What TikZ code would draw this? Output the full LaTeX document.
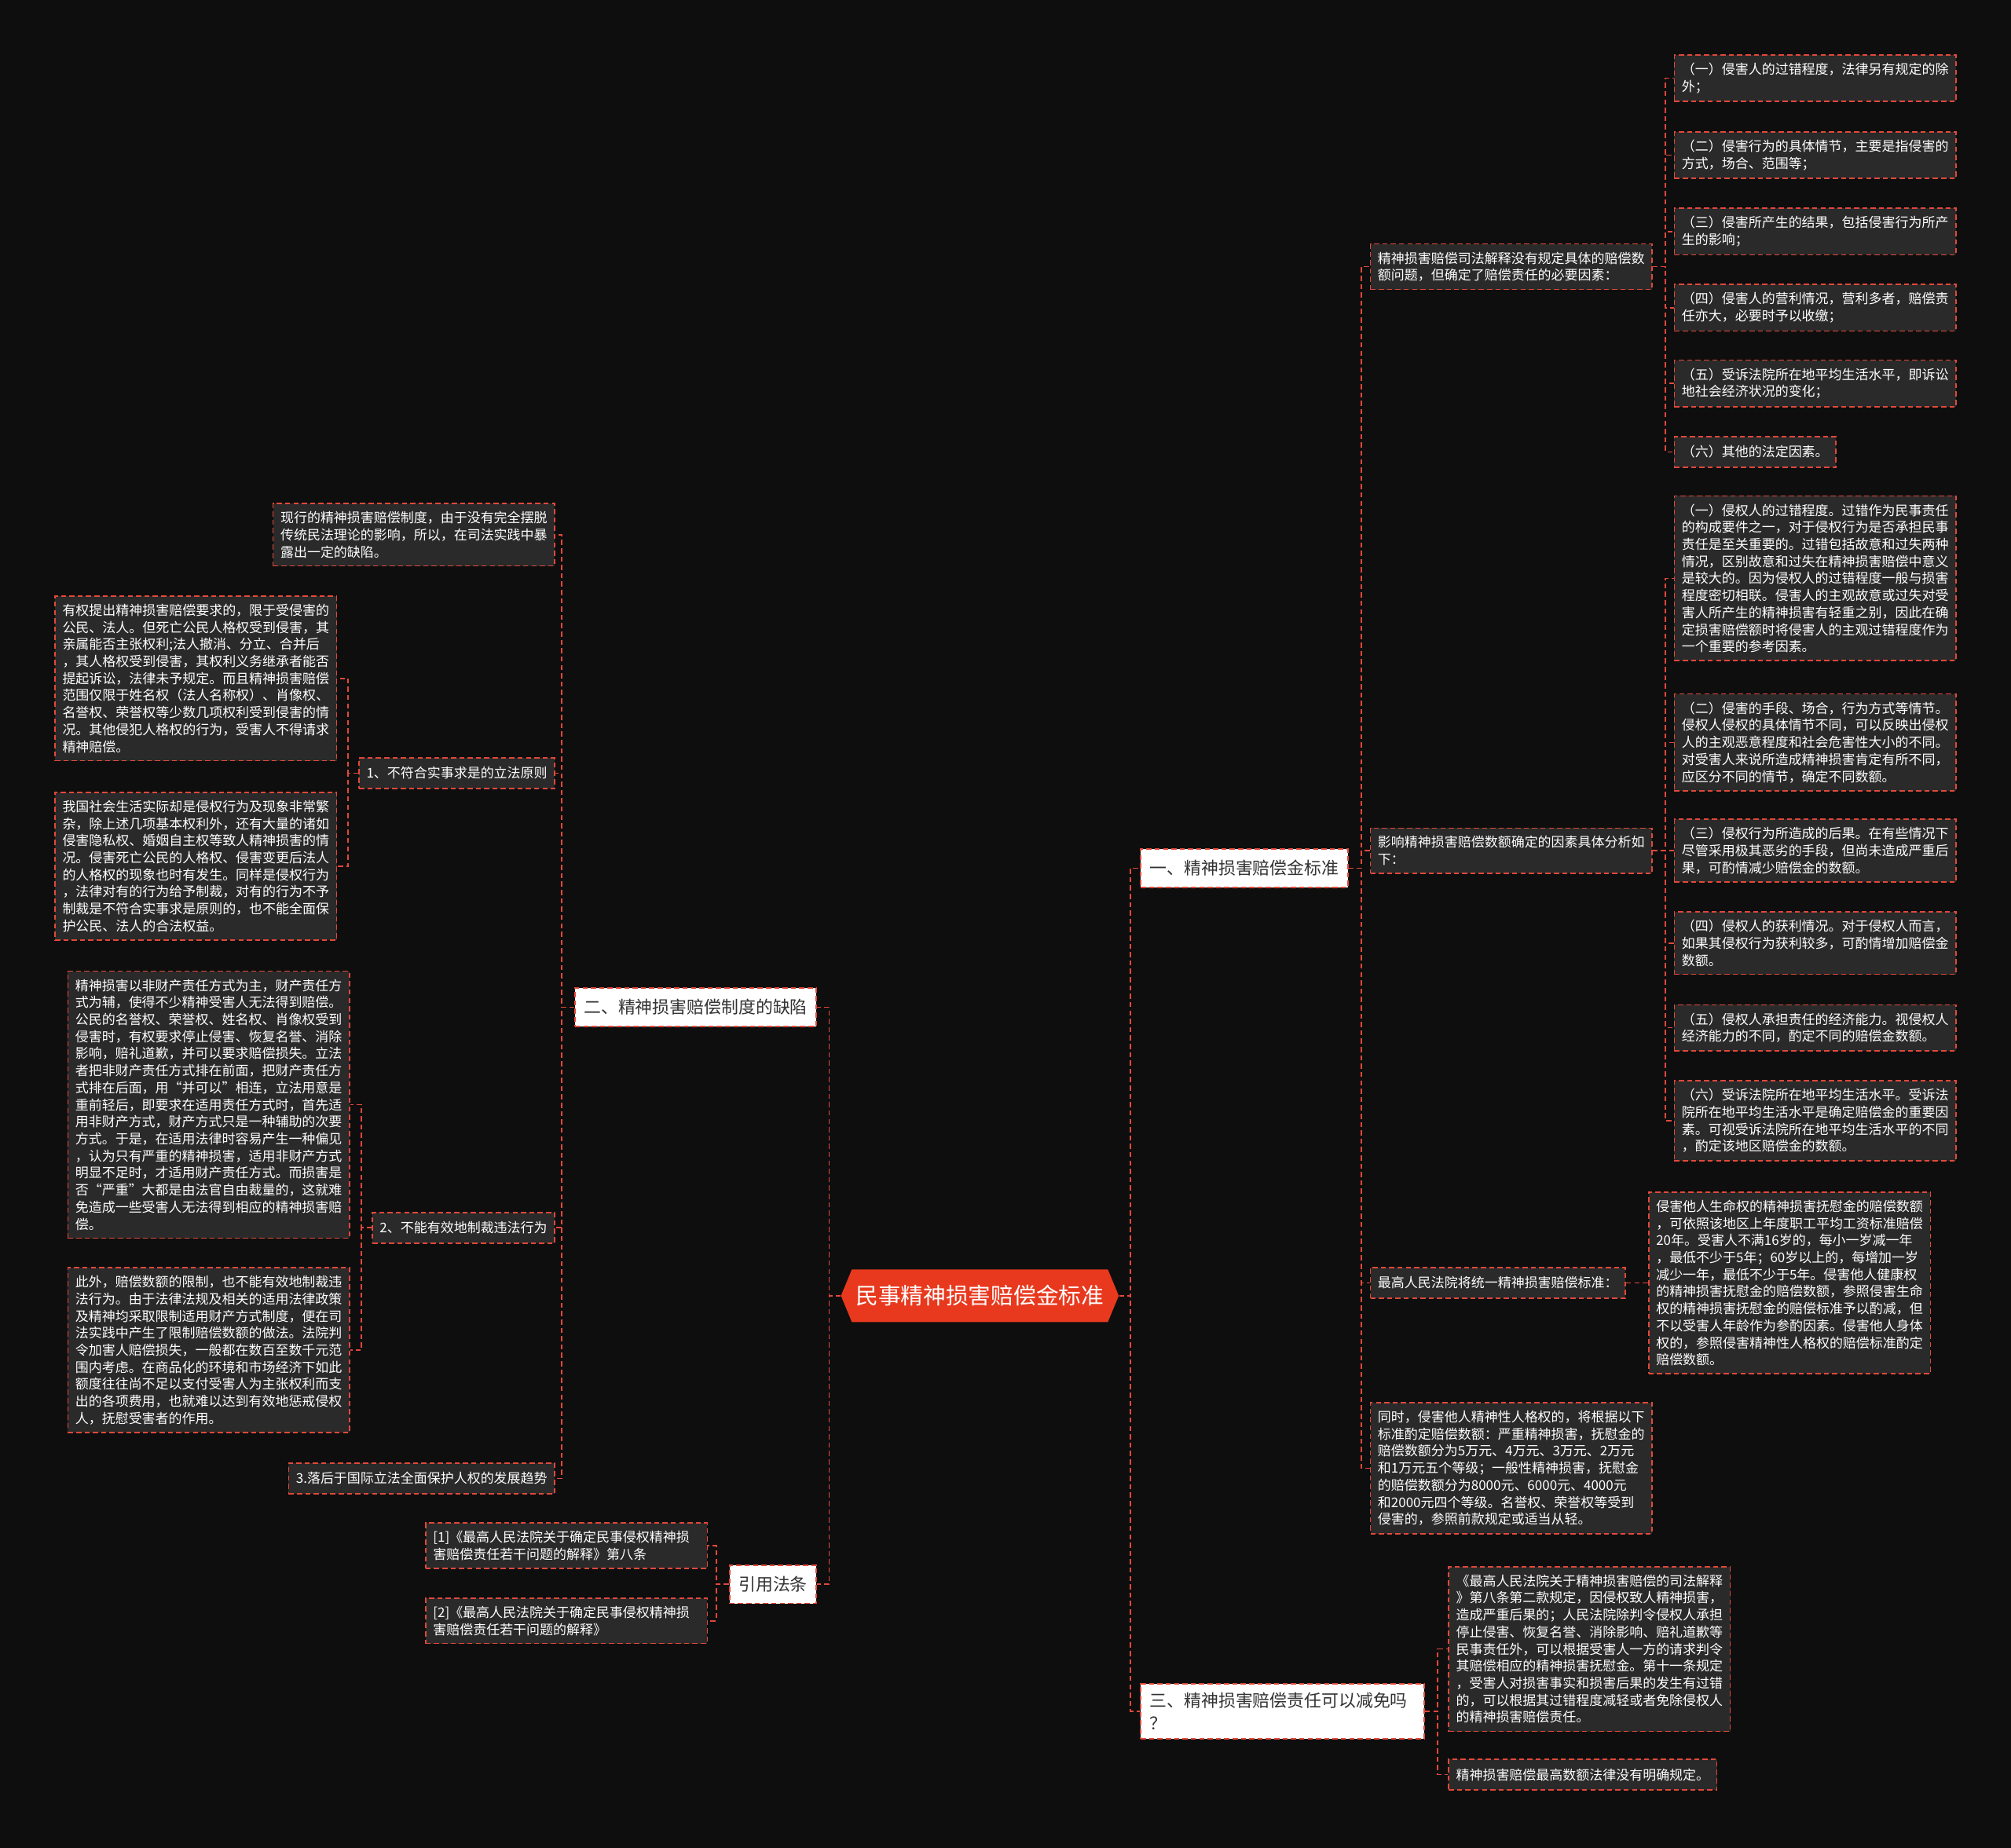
\documentclass[tikz,border=0pt]{standalone}
\usepackage{fontspec}
\setmainfont{Noto Sans CJK SC}
\usetikzlibrary{shapes.symbols}

\definecolor{bgdark}{HTML}{0E0E0E}
\definecolor{leafgray}{HTML}{2A2A2A}
\definecolor{linkred}{HTML}{E2483A}
\definecolor{mainred}{HTML}{E8391E}
\definecolor{textdark}{HTML}{333333}

\tikzset{
  link/.style={draw=linkred, line width=1pt, dash pattern=on 4pt off 2.5pt},
  leaf/.style={link, fill=leafgray, text=white, align=left,
    font=\fontsize{10.4}{13.3}\selectfont,
    inner xsep=5.8pt, inner ysep=6.2pt, minimum height=24pt},
  wideleaf/.style={leaf, text width=208pt},
  branch/.style={link, fill=white, text=textdark, align=left,
    font=\fontsize{13.4}{17.5}\selectfont,
    inner xsep=7pt, inner ysep=7pt, minimum height=30pt},
  root/.style={shape=signal, signal to=west and east, signal pointer angle=135,
    fill=mainred, text=white, font=\fontsize{17.6}{20}\selectfont,
    minimum width=214pt, minimum height=41pt, inner xsep=3pt}
}

\begin{document}
\begin{tikzpicture}[x=1pt,y=-1pt]
  \useasboundingbox (0,0) rectangle (1568,1441);
  \fill[bgdark] (0,0) rectangle (1568,1441);

  % root
  \node[root] (root) at (764,1010.5) {民事精神损害赔偿金标准};

  % branches
  \node[branch, anchor=west] (b1) at (889,677) {一、精神损害赔偿金标准};
  \node[branch, anchor=west, text width=207pt] (b3) at (889,1334.5) {三、精神损害赔偿责任可以减免吗\\？};
  \node[branch, anchor=east] (b2) at (637,785.5) {二、精神损害赔偿制度的缺陷};
  \node[branch, anchor=east] (cite) at (637,1235.5) {引用法条};

  % branch one
  \node[wideleaf, anchor=west] (p1) at (1068,208) {精神损害赔偿司法解释没有规定具体的赔偿数\\额问题，但确定了赔偿责任的必要因素：};
  \node[wideleaf, anchor=west] (a1) at (1305,61) {（一）侵害人的过错程度，法律另有规定的除\\外；};
  \node[wideleaf, anchor=west] (a2) at (1305,121) {（二）侵害行为的具体情节，主要是指侵害的\\方式，场合、范围等；};
  \node[wideleaf, anchor=west] (a3) at (1305,180.5) {（三）侵害所产生的结果，包括侵害行为所产\\生的影响；};
  \node[wideleaf, anchor=west] (a4) at (1305,240) {（四）侵害人的营利情况，营利多者，赔偿责\\任亦大，必要时予以收缴；};
  \node[wideleaf, anchor=west] (a5) at (1305,299) {（五）受诉法院所在地平均生活水平，即诉讼\\地社会经济状况的变化；};
  \node[leaf, anchor=west] (a6) at (1305,352.5) {（六）其他的法定因素。};

  \node[wideleaf, anchor=west] (p2) at (1068,663.5) {影响精神损害赔偿数额确定的因素具体分析如\\下：};
  \node[wideleaf, anchor=west] (c1) at (1305,451) {（一）侵权人的过错程度。过错作为民事责任\\的构成要件之一，对于侵权行为是否承担民事\\责任是至关重要的。过错包括故意和过失两种\\情况，区别故意和过失在精神损害赔偿中意义\\是较大的。因为侵权人的过错程度一般与损害\\程度密切相联。侵害人的主观故意或过失对受\\害人所产生的精神损害有轻重之别，因此在确\\定损害赔偿额时将侵害人的主观过错程度作为\\一个重要的参考因素。};
  \node[wideleaf, anchor=west] (c2) at (1305,579) {（二）侵害的手段、场合，行为方式等情节。\\侵权人侵权的具体情节不同，可以反映出侵权\\人的主观恶意程度和社会危害性大小的不同。\\对受害人来说所造成精神损害肯定有所不同，\\应区分不同的情节，确定不同数额。};
  \node[wideleaf, anchor=west] (c3) at (1305,663.5) {（三）侵权行为所造成的后果。在有些情况下\\尽管采用极其恶劣的手段，但尚未造成严重后\\果，可酌情减少赔偿金的数额。};
  \node[wideleaf, anchor=west] (c4) at (1305,735.5) {（四）侵权人的获利情况。对于侵权人而言，\\如果其侵权行为获利较多，可酌情增加赔偿金\\数额。};
  \node[wideleaf, anchor=west] (c5) at (1305,801.5) {（五）侵权人承担责任的经济能力。视侵权人\\经济能力的不同，酌定不同的赔偿金数额。};
  \node[wideleaf, anchor=west] (c6) at (1305,874) {（六）受诉法院所在地平均生活水平。受诉法\\院所在地平均生活水平是确定赔偿金的重要因\\素。可视受诉法院所在地平均生活水平的不同\\，酌定该地区赔偿金的数额。};

  \node[leaf, anchor=west] (p3) at (1068,1000.5) {最高人民法院将统一精神损害赔偿标准：};
  \node[wideleaf, anchor=west] (s1) at (1285,1000.5) {侵害他人生命权的精神损害抚慰金的赔偿数额\\，可依照该地区上年度职工平均工资标准赔偿\\20年。受害人不满16岁的，每小一岁减一年\\，最低不少于5年；60岁以上的，每增加一岁\\减少一年，最低不少于5年。侵害他人健康权\\的精神损害抚慰金的赔偿数额，参照侵害生命\\权的精神损害抚慰金的赔偿标准予以酌减，但\\不以受害人年龄作为参酌因素。侵害他人身体\\权的，参照侵害精神性人格权的赔偿标准酌定\\赔偿数额。};

  \node[wideleaf, anchor=west] (p4) at (1068,1145) {同时，侵害他人精神性人格权的，将根据以下\\标准酌定赔偿数额：严重精神损害，抚慰金的\\赔偿数额分为5万元、4万元、3万元、2万元\\和1万元五个等级；一般性精神损害，抚慰金\\的赔偿数额分为8000元、6000元、4000元\\和2000元四个等级。名誉权、荣誉权等受到\\侵害的，参照前款规定或适当从轻。};

  % branch three
  \node[wideleaf, anchor=west] (d1) at (1129,1286) {《最高人民法院关于精神损害赔偿的司法解释\\》第八条第二款规定，因侵权致人精神损害，\\造成严重后果的；人民法院除判令侵权人承担\\停止侵害、恢复名誉、消除影响、赔礼道歉等\\民事责任外，可以根据受害人一方的请求判令\\其赔偿相应的精神损害抚慰金。第十一条规定\\，受害人对损害事实和损害后果的发生有过错\\的，可以根据其过错程度减轻或者免除侵权人\\的精神损害赔偿责任。};
  \node[leaf, anchor=west] (d2) at (1129,1384) {精神损害赔偿最高数额法律没有明确规定。};

  % branch two
  \node[wideleaf, anchor=east] (l0) at (433,417) {现行的精神损害赔偿制度，由于没有完全摆脱\\传统民法理论的影响，所以，在司法实践中暴\\露出一定的缺陷。};
  \node[leaf, anchor=east] (l1) at (433,603) {1、不符合实事求是的立法原则};
  \node[wideleaf, anchor=east] (l1a) at (263,529) {有权提出精神损害赔偿要求的，限于受侵害的\\公民、法人。但死亡公民人格权受到侵害，其\\亲属能否主张权利;法人撤消、分立、合并后\\，其人格权受到侵害，其权利义务继承者能否\\提起诉讼，法律未予规定。而且精神损害赔偿\\范围仅限于姓名权（法人名称权）、肖像权、\\名誉权、荣誉权等少数几项权利受到侵害的情\\况。其他侵犯人格权的行为，受害人不得请求\\精神赔偿。};
  \node[wideleaf, anchor=east] (l1b) at (263,675.5) {我国社会生活实际却是侵权行为及现象非常繁\\杂，除上述几项基本权利外，还有大量的诸如\\侵害隐私权、婚姻自主权等致人精神损害的情\\况。侵害死亡公民的人格权、侵害变更后法人\\的人格权的现象也时有发生。同样是侵权行为\\，法律对有的行为给予制裁，对有的行为不予\\制裁是不符合实事求是原则的，也不能全面保\\护公民、法人的合法权益。};
  \node[leaf, anchor=east] (l2) at (433,957.5) {2、不能有效地制裁违法行为};
  \node[wideleaf, anchor=east] (l2a) at (273,861.5) {精神损害以非财产责任方式为主，财产责任方\\式为辅，使得不少精神受害人无法得到赔偿。\\公民的名誉权、荣誉权、姓名权、肖像权受到\\侵害时，有权要求停止侵害、恢复名誉、消除\\影响，赔礼道歉，并可以要求赔偿损失。立法\\者把非财产责任方式排在前面，把财产责任方\\式排在后面，用“并可以”相连，立法用意是\\重前轻后，即要求在适用责任方式时，首先适\\用非财产方式，财产方式只是一种辅助的次要\\方式。于是，在适用法律时容易产生一种偏见\\，认为只有严重的精神损害，适用非财产方式\\明显不足时，才适用财产责任方式。而损害是\\否“严重”大都是由法官自由裁量的，这就难\\免造成一些受害人无法得到相应的精神损害赔\\偿。};
  \node[wideleaf, anchor=east] (l2b) at (273,1053) {此外，赔偿数额的限制，也不能有效地制裁违\\法行为。由于法律法规及相关的适用法律政策\\及精神均采取限制适用财产方式制度，便在司\\法实践中产生了限制赔偿数额的做法。法院判\\令加害人赔偿损失，一般都在数百至数千元范\\围内考虑。在商品化的环境和市场经济下如此\\额度往往尚不足以支付受害人为主张权利而支\\出的各项费用，也就难以达到有效地惩戒侵权\\人，抚慰受害者的作用。};
  \node[leaf, anchor=east] (l3) at (433,1153) {3.落后于国际立法全面保护人权的发展趋势};

  % cited laws
  \node[wideleaf, anchor=east] (r1) at (552,1205.5) {[1]《最高人民法院关于确定民事侵权精神损\\害赔偿责任若干问题的解释》第八条};
  \node[wideleaf, anchor=east] (r2) at (552,1264) {[2]《最高人民法院关于确定民事侵权精神损\\害赔偿责任若干问题的解释》};

  % connectors
  \foreach \b in {b1,b3} \draw[link] (root.east) -- ++(9,0) |- (\b.west);
  \foreach \b in {b2,cite} \draw[link] (root.west) -- ++(-9,0) |- (\b.east);
  \foreach \p in {p1,p2,p3,p4} \draw[link] (b1.east) -- ++(10,0) |- (\p.west);
  \foreach \c in {a1,a2,a3,a4,a5,a6} \draw[link] (p1.east) -- ++(10,0) |- (\c.west);
  \foreach \c in {c1,c2,c3,c4,c5,c6} \draw[link] (p2.east) -- ++(10,0) |- (\c.west);
  \draw[link] (p3.east) -- (s1.west);
  \foreach \d in {d1,d2} \draw[link] (b3.east) -- ++(10,0) |- (\d.west);
  \foreach \l in {l0,l1,l2,l3} \draw[link] (b2.west) -- ++(-10,0) |- (\l.east);
  \foreach \l in {l1a,l1b} \draw[link] (l1.west) -- ++(-8,0) |- (\l.east);
  \foreach \l in {l2a,l2b} \draw[link] (l2.west) -- ++(-8,0) |- (\l.east);
  \foreach \r in {r1,r2} \draw[link] (cite.west) -- ++(-10,0) |- (\r.east);
\end{tikzpicture}
\end{document}
